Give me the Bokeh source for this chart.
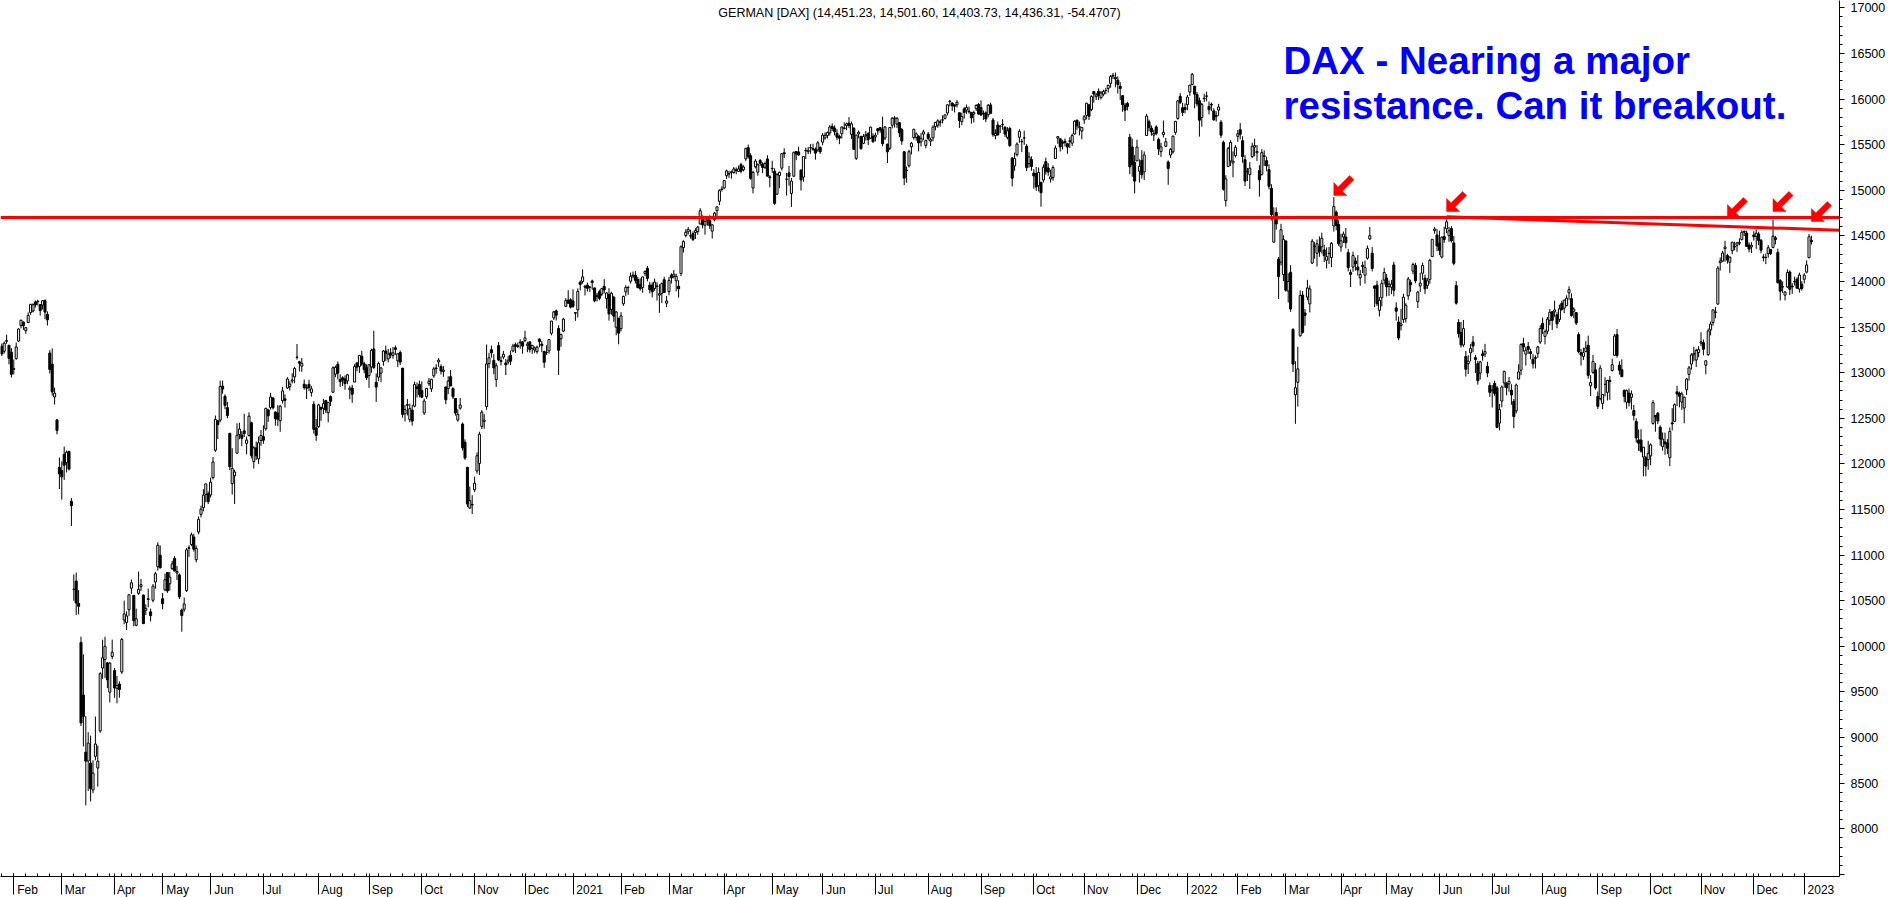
import numpy as np
import pandas as pd
from bokeh.plotting import figure
from bokeh.models import (ColumnDataSource, FixedTicker, SingleIntervalTicker, Span, Label,
                          Range1d, NumeralTickFormatter)
from bokeh.embed import file_html
from bokeh.resources import INLINE

# ---------------- data (daily OHLC, DAX, 27 Jan 2020 .. 5 Jan 2023) ----------------
holidays = ["2020-04-10", "2020-04-13", "2020-05-01", "2020-12-24", "2020-12-25", "2020-12-31",
            "2021-01-01", "2021-04-02", "2021-04-05", "2021-12-24", "2021-12-31",
            "2022-04-15", "2022-04-18", "2022-12-26"]

opens = [
    13289,13234,13351,13301,13225,
    13036,13154,13346,13516,13554,13460,13550,13660,13676,13775,13778,13746,13741,13793,13640,13215,13093,12734,12483,11961,
    11927,12104,12014,12136,11590,10626,10715,10470,10043,9466,8840,8743,8720,8425,8794,8666,9073,9762,9855,9819,9497,9889,
    9734,9540,9587,9719,10290,10262,10401,10637,10559,10231,10581,10653,10562,10396,10521,10378,10505,10706,10873,10999,
    10523,10620,10810,10686,10852,10963,10804,10783,10398,10407,10610,11080,11117,11199,10950,11253,11447,11520,11666,11672,
    11660,11850,12150,12473,12480,12853,12741,12617,12334,11784,11871,12118,12321,12317,12362,12225,12312,12451,12026,12175,12055,12256,
    12299,12385,12593,12617,12723,12569,12556,12473,12693,12713,12832,12847,12909,12954,13167,13119,13072,12874,12829,12872,12783,12654,12395,
    12409,12617,12610,12694,12561,12738,12786,12985,13092,12925,12944,12931,12910,12812,12832,12897,13107,13067,13180,13097,13055,
    12968,13063,13260,12894,12951,12995,13123,13238,13151,13217,13190,13273,13130,13221,13050,12549,12649,12486,12589,12633,12844,12872,
    12805,12558,12737,12879,12823,12965,13046,13118,13066,13013,12844,12826,12956,12827,12718,12481,12611,12437,12238,11963,11516,11550,
    11716,11923,12005,12411,12466,12628,13100,13252,13135,12925,13296,13122,13171,13107,13116,13190,13238,13307,13295,13327,13338,
    13352,13301,13338,13266,13249,13231,13368,13314,13232,13221,13239,13432,13600,13677,13485,13372,13456,13727,13795,13799,
    13787,13658,13689,13992,13999,13947,13960,13935,14005,13929,13834,13887,13862,13947,13812,13855,13692,13827,13498,13592,
    13482,13755,13886,13934,14002,14070,14069,14021,13967,13934,14087,14144,13960,13959,13923,13945,13850,13869,14019,13762,
    13889,14071,14057,14007,13947,14087,14372,14504,14545,14498,14524,14536,14547,14631,14701,14617,14681,14666,14551,14677,14776,14879,15014,
    15025,15159,15183,15195,15194,15224,15207,15281,15225,15344,15467,15378,15025,15257,15198,15327,15289,15252,15343,15147,
    15240,15208,14957,15161,15242,15411,15121,15190,14965,15154,15424,15420,15221,15144,15431,15423,15467,15457,15448,15442,15470,
    15527,15574,15600,15629,15700,15681,15624,15591,15620,15683,15708,15736,15613,15680,15350,15617,15589,15514,15597,15621,15571,15592,
    15584,15675,15686,15663,15573,15504,15460,15712,15791,15725,15741,15663,15422,15220,15268,15476,15577,15579,15592,15530,15615,15492,
    15616,15538,15574,15699,15713,15749,15771,15788,15847,15972,15956,15936,15938,15850,15752,15892,15878,15867,15854,15834,15896,15939,
    15906,15843,15848,15828,15935,15770,15600,15715,15703,15718,15690,15580,15677,15353,15266,15390,15581,15535,15573,15483,15292,15336,
    15188,15183,15052,15087,15112,15313,15244,15124,15138,15348,15571,15564,15525,15538,15510,15537,15516,15617,15769,15690,15649,
    15772,15821,15936,15883,16082,16025,16085,16014,16053,16095,16116,16171,16260,16236,16207,16140,16037,15933,15952,15582,15474,15306,
    15322,15209,15328,15201,15600,15751,15681,15605,15694,15557,15423,15611,15482,15310,15386,15421,15634,15787,16029,15905,15907,
    15938,16076,16158,16141,16048,15982,15797,16002,16033,15919,15942,15870,15820,15879,15746,15526,14886,15261,15321,15299,15380,
    15591,15664,15543,15335,15202,15172,15369,15472,15411,15216,15174,15377,15324,15225,15021,14431,14757,14244,14212,14076,
    14444,13895,14100,13476,12758,12894,13404,13851,13654,13829,13754,14202,14381,14309,14387,14380,14346,14233,14309,14262,14608,14758,14624,
    14378,14487,14487,14316,14099,14158,14225,14159,14039,14177,14069,14255,14466,14310,13951,13960,13684,13822,14015,
    14038,13945,13937,14181,13710,13555,13516,13583,13593,13842,13988,14113,14176,13778,13951,14090,14037,13956,14021,14272,14557,14510,
    14419,14268,14491,14577,14502,14580,14422,13955,13551,13439,13304,13178,13099,13218,13336,13165,13099,12995,13206,13204,13069,12859,
    12802,12882,12834,12447,12689,12887,12883,12877,12808,12685,12581,12930,13027,13319,13203,13287,13229,13147,13156,13211,13336,
    13541,13398,13454,13573,13667,13668,13634,13582,13760,13707,13735,13875,13812,13673,13658,13418,13219,13178,13232,13301,12856,13003,13032,
    12739,12717,12663,12872,12784,12916,13025,13191,13416,13083,13033,12806,12677,12776,12730,12585,12465,12263,12262,12076,12068,12047,
    12088,12443,12531,12555,12403,12190,12241,12229,12068,12450,12466,12790,12775,12678,12612,12813,12981,13094,13196,13139,13220,
    13324,13330,13081,13197,13469,13551,13660,13752,14206,14223,14360,14284,14211,14337,14383,14397,14419,14459,14549,14531,14399,14379,
    14510,14494,14521,14451,14269,14263,14304,14350,14374,14478,14319,14010,13939,13850,13940,14104,13949,14001,14026,13917,13969,
    14024,14102,14261,14451,
]
highs = [
    13319,13341,13417,13301,13268,
    13145,13330,13484,13580,13561,13501,13660,13750,13760,13791,13799,13752,13795,13803,13672,13246,13266,12836,12488,12070,
    12028,12190,12148,12145,11626,10788,10808,10616,10106,9912,9236,9059,9022,8751,9230,8912,9718,10073,10106,9829,9825,10074,
    9762,9674,9617,10092,10502,10384,10572,10732,10559,10413,10819,10738,10568,10461,10633,10414,10683,10817,11141,11106,
    10584,10797,10810,10815,10938,10989,10882,10800,10414,10535,11078,11107,11247,11235,11106,11423,11542,11723,11781,11698,
    11850,12075,12530,12479,12913,12913,12763,12680,12342,12172,11937,12445,12451,12358,12550,12301,12565,12462,12194,12245,12300,12372,
    12423,12618,12595,12780,12729,12575,12645,12647,12844,12762,12950,12906,12994,13063,13314,13131,13161,12925,12872,12922,12853,12686,12493,
    12660,12628,12712,12702,12678,12752,13070,13078,13123,12983,12961,12969,12987,12856,12867,13093,13111,13190,13240,13120,13092,
    13087,13263,13460,12991,13121,13045,13249,13297,13260,13269,13282,13297,13202,13244,13050,12645,12710,12661,12649,12901,12893,12913,
    12905,12717,12832,12941,12929,13064,13093,13161,13091,13072,12844,12961,13030,12839,12719,12599,12722,12454,12269,11963,11752,11657,
    11861,12126,12353,12589,12545,13309,13218,13297,13203,13106,13335,13178,13239,13150,13186,13243,13317,13330,13329,13366,13348,
    13460,13339,13343,13306,13287,13297,13378,13349,13241,13301,13367,13568,13678,13692,13520,13430,13602,13817,13904,13816,
    13913,13665,13924,14010,14132,13961,13988,13950,14020,13932,13874,13909,13931,14025,13883,13926,13887,13843,13677,13604,
    13664,13845,13958,13953,14098,14109,14113,14051,14033,14052,14121,14169,13996,13990,14032,13990,13970,13988,14052,13842,
    14050,14090,14125,14085,14014,14396,14452,14573,14597,14568,14548,14584,14610,14804,14725,14707,14703,14726,14628,14763,14824,15011,15043,
    15108,15226,15211,15216,15255,15250,15271,15301,15274,15460,15501,15406,15212,15341,15295,15341,15306,15314,15384,15165,
    15323,15240,15188,15205,15409,15459,15190,15267,15135,15424,15430,15477,15227,15370,15467,15474,15508,15510,15469,15539,15480,
    15627,15635,15644,15713,15733,15711,15667,15608,15699,15745,15741,15802,15753,15690,15609,15655,15599,15617,15650,15636,15697,15624,
    15632,15680,15692,15807,15705,15512,15689,15800,15812,15801,15747,15683,15427,15260,15444,15528,15672,15634,15603,15625,15663,15555,
    15641,15576,15711,15749,15778,15775,15821,15829,15938,15987,15963,15939,15989,15850,15850,15911,15939,15918,15854,15872,15943,15956,
    15986,15874,15864,15945,15959,15793,15668,15753,15711,15779,15703,15692,15696,15365,15413,15525,15668,15563,15653,15506,15416,15372,
    15232,15255,15250,15087,15284,15357,15296,15225,15273,15491,15593,15565,15553,15568,15519,15581,15621,15767,15769,15753,15689,
    15824,15957,15937,16039,16084,16067,16116,16087,16102,16120,16159,16263,16287,16290,16248,16184,16044,15958,15970,15618,15566,15385,
    15554,15338,15440,15425,15838,15775,15711,15664,15713,15577,15520,15765,15574,15327,15462,15599,15757,15984,16065,15959,15951,
    16045,16155,16285,16141,16076,16016,15957,16058,16081,15972,15961,15898,15865,15947,15768,15544,15165,15473,15548,15425,15494,
    15660,15736,15593,15384,15244,15308,15521,15565,15496,15274,15450,15437,15368,15283,15066,14813,14812,14268,14632,14507,
    14451,14090,14179,13484,13126,13284,13901,13896,13697,14018,13957,14464,14432,14460,14493,14535,14402,14373,14378,14433,14925,14778,14671,
    14523,14547,14586,14355,14132,14326,14262,14288,14127,14217,14229,14394,14597,14376,13953,14008,13829,14018,14150,
    14082,14010,14018,14216,13772,13617,13700,13866,13762,14050,14018,14206,14204,13895,14096,14207,14075,14037,14249,14462,14597,14574,
    14557,14495,14600,14709,14597,14606,14499,14004,13587,13557,13578,13238,13191,13316,13403,13194,13130,13130,13253,13316,13120,12894,
    12865,12912,12853,12658,12859,13021,12896,12953,12874,12712,12881,13092,13322,13383,13285,13336,13262,13203,13191,13296,13521,
    13603,13473,13611,13698,13677,13791,13662,13746,13788,13800,13848,13947,13870,13717,13665,13443,13261,13275,13346,13406,12973,13196,13106,
    12794,13082,12767,12950,12920,12963,13153,13424,13478,13126,13146,12816,12816,12827,12805,12647,12499,12377,12380,12186,12085,12253,
    12225,12699,12531,12569,12423,12345,12343,12271,12400,12611,12663,12857,12793,12790,12739,12938,13075,13214,13283,13262,13291,
    13444,13364,13135,13483,13561,13694,13721,14170,14262,14335,14446,14304,14275,14433,14436,14430,14473,14561,14559,14557,14429,14431,
    14551,14571,14545,14465,14299,14306,14400,14357,14676,14500,14359,14025,14000,13894,14132,14122,13982,14053,14045,14097,14003,
    14091,14231,14520,14502,
]
lows = [
    13183,13210,13316,13092,12948,
    12981,13143,13338,13486,13469,13426,13548,13634,13661,13714,13736,13626,13693,13587,13517,12992,12750,12651,12324,11725,
    11608,11824,11906,11928,11320,10500,10343,10350,9127,8903,8256,8415,8300,8390,8750,8462,9053,9643,9654,9542,9385,9859,
    9436,9375,9437,9698,10242,10178,10331,10575,10221,10220,10564,10608,10246,10344,10427,10273,10482,10631,10831,10852,
    10406,10605,10586,10611,10838,10825,10727,10519,10160,10379,10596,10981,11099,11039,10921,11228,11413,11480,11579,11560,
    11630,11830,12130,12272,12456,12770,12600,12500,11932,11663,11560,12113,12270,12195,12294,12105,12300,12061,11949,12043,11998,12199,
    12220,12364,12462,12596,12597,12419,12414,12352,12662,12617,12823,12803,12881,12884,13143,13013,13009,12814,12711,12800,12738,12333,12253,
    12395,12472,12544,12559,12455,12634,12776,12951,12925,12845,12853,12812,12874,12709,12669,12897,13015,12997,13074,12992,12920,
    12833,13000,13040,12678,12907,12895,13076,13129,13113,13158,13153,13195,13061,13084,12507,12465,12531,12456,12420,12620,12728,12730,
    12723,12537,12713,12856,12788,12944,12987,13064,12979,12955,12655,12765,12856,12711,12529,12463,12595,12147,12045,11527,11509,11450,
    11693,11894,11879,12381,12385,12593,13049,13165,12983,12844,13127,13078,13147,12974,13090,13083,13224,13216,13271,13262,13208,
    13336,13224,13221,13207,13218,13208,13279,13225,13053,13193,13208,13409,13579,13572,12975,13284,13444,13719,13755,13703,
    13710,13568,13605,13902,13975,13846,13890,13883,13908,13771,13780,13793,13839,13869,13702,13571,13634,13558,13410,13311,
    13452,13733,13838,13853,13976,14035,13978,13927,13900,13876,14062,14001,13869,13825,13898,13791,13656,13761,13879,13718,
    13848,13977,14034,13892,13823,14060,14316,14483,14514,14469,14442,14466,14512,14625,14582,14513,14612,14576,14470,14659,14706,14836,14987,
    15011,15124,15136,15127,15180,15174,15203,15186,15207,15321,15346,15116,14966,15240,15159,15266,15186,15231,15154,15033,
    15188,14840,14953,15022,15217,15354,14941,15050,14817,15146,15330,15380,14997,15092,15342,15396,15400,15431,15335,15421,15398,
    15493,15553,15568,15599,15650,15601,15548,15505,15567,15670,15658,15681,15561,15448,15332,15569,15445,15505,15545,15495,15563,15522,
    15535,15608,15630,15482,15551,15298,15441,15678,15687,15683,15582,15498,15056,15083,15250,15392,15555,15543,15426,15480,15548,15460,
    15546,15484,15537,15656,15684,15696,15733,15776,15821,15919,15870,15853,15907,15683,15712,15785,15836,15840,15730,15742,15870,15827,
    15816,15771,15746,15800,15834,15586,15560,15595,15626,15664,15584,15558,15474,15042,15213,15370,15520,15419,15498,15211,15248,15213,
    15016,14993,14987,14819,15085,15171,15158,15084,15106,15345,15509,15425,15447,15480,15400,15462,15486,15608,15663,15601,15558,
    15728,15776,15770,15867,15960,15989,15987,15995,16030,16052,16070,16124,16220,16128,16060,15989,15859,15758,15875,15176,15148,14965,
    15322,15085,15128,15111,15599,15647,15598,15540,15602,15385,15365,15579,15472,15060,15354,15400,15608,15772,15945,15812,15843,
    15878,16034,16152,15898,15920,15588,15697,15968,15974,15831,15867,15761,15753,15815,15574,14996,14822,15253,15264,15142,15359,
    15530,15558,15301,15045,15101,15014,15352,15372,15321,14930,15160,15266,15208,15010,14669,14428,14567,13807,14176,14003,
    13888,13770,13667,13006,12439,12628,13395,13428,13515,13794,13661,14192,14250,14164,14270,14305,14213,14142,14191,14156,14547,14561,14391,
    14326,14421,14363,14110,13939,14107,14118,14066,13953,14092,13975,14239,14455,14110,13720,13731,13616,13727,13967,
    13836,13841,13860,13837,13571,13355,13463,13544,13550,13800,13886,14079,13980,13709,13884,14017,13861,13919,13975,14272,14523,14333,
    14288,14252,14423,14529,14435,14426,14177,13746,13384,13276,13283,12957,12985,13124,13225,12997,12869,12925,13132,13170,12951,12734,
    12618,12746,12391,12367,12620,12836,12752,12791,12648,12391,12553,12928,12972,13231,13078,13207,13146,13046,13046,13162,13315,
    13424,13310,13421,13520,13467,13612,13487,13555,13678,13653,13728,13800,13613,13597,13522,13212,13078,13138,13225,12935,12744,12988,12813,
    12602,12696,12600,12741,12695,12703,13012,13190,13164,12979,12952,12675,12604,12630,12595,12476,12234,12143,12124,11863,11863,11935,
    11985,12430,12353,12436,12200,12145,12100,12107,11975,12366,12460,12633,12620,12592,12445,12756,12913,13034,13124,13063,13169,
    13292,13190,12982,13186,13409,13516,13596,13745,14119,14214,14217,14195,14094,14298,14341,14325,14397,14450,14498,14379,14319,14311,
    14449,14357,14398,14309,14220,14190,14260,14290,14363,14406,13975,13791,13876,13792,13930,13850,13864,13956,13924,13878,13899,
    13978,14088,14253,14404,
]
closes = [
    13205,13324,13345,13157,12982,
    13045,13282,13479,13575,13514,13494,13628,13750,13745,13744,13784,13681,13789,13664,13579,13035,12790,12775,12367,11890,
    11857,11986,12128,11944,11542,10625,10475,10439,9161,9232,8742,8939,8442,8610,8929,8741,9701,9874,10001,9633,9816,9936,
    9544,9571,9526,10075,10356,10333,10565,10697,10280,10301,10626,10676,10249,10416,10514,10337,10660,10796,11108,10862,
    10467,10730,10607,10759,10904,10825,10820,10543,10337,10465,11058,11075,11223,11065,11074,11392,11504,11657,11781,11587,
    11800,12021,12487,12431,12848,12820,12642,12530,11970,11949,11911,12315,12382,12281,12331,12262,12523,12093,12177,12089,12232,12311,
    12260,12608,12528,12733,12616,12495,12489,12633,12800,12697,12931,12874,12920,13046,13171,13104,13103,12838,12839,12836,12822,12379,12313,
    12647,12600,12660,12591,12674,12687,13054,13058,12994,12901,12920,12881,12977,12830,12764,13067,13061,13190,13096,13033,12945,
    13087,13243,13057,12842,13100,13053,13237,13209,13202,13193,13217,13255,13208,13116,12542,12594,12643,12606,12469,12871,12826,12761,
    12731,12689,12828,12906,12928,13042,13051,13138,13018,13028,12703,12909,12854,12736,12558,12543,12646,12177,12064,11561,11598,11556,
    11788,12089,12325,12568,12480,13096,13163,13217,13052,13077,13139,13133,13202,13086,13137,13127,13292,13290,13287,13336,13291,
    13382,13313,13253,13298,13271,13279,13340,13296,13114,13223,13363,13566,13667,13630,13246,13418,13587,13790,13761,13719,
    13727,13652,13892,13968,14050,13937,13925,13940,13989,13788,13848,13815,13921,13907,13874,13644,13871,13620,13666,13433,
    13623,13836,13934,13933,14057,14060,14012,13932,13921,14050,14109,14033,13909,13887,13993,13950,13865,13976,13879,13786,
    14012,14039,14080,14056,13920,14380,14437,14540,14569,14502,14461,14557,14596,14775,14621,14657,14662,14611,14621,14749,14818,14996,15008,
    15107,15212,15177,15203,15234,15215,15234,15209,15255,15460,15368,15130,15196,15320,15280,15296,15249,15292,15154,15136,
    15236,14856,15171,15197,15400,15400,15120,15150,15100,15416,15397,15386,15113,15370,15438,15438,15465,15450,15407,15520,15421,
    15603,15602,15632,15693,15677,15640,15581,15571,15693,15674,15729,15711,15728,15448,15603,15636,15456,15589,15608,15554,15691,15531,
    15604,15650,15661,15511,15692,15421,15688,15790,15790,15789,15630,15540,15133,15216,15423,15515,15669,15618,15519,15570,15640,15544,
    15568,15555,15692,15744,15761,15745,15770,15826,15937,15977,15925,15921,15965,15765,15808,15852,15906,15860,15793,15852,15930,15835,
    15824,15840,15781,15932,15843,15610,15623,15609,15701,15722,15616,15652,15490,15132,15349,15506,15644,15531,15574,15248,15365,15260,
    15156,15036,15195,14973,15251,15206,15199,15147,15249,15463,15587,15474,15516,15522,15473,15543,15599,15757,15705,15696,15689,
    15806,15954,15811,16030,16054,16046,16040,16067,16083,16094,16148,16248,16251,16221,16160,16116,15937,15878,15917,15257,15280,15100,
    15473,15263,15170,15387,15813,15687,15639,15623,15622,15453,15476,15636,15532,15239,15447,15593,15756,15980,15964,15853,15885,
    16021,16152,16271,16052,15948,15768,15942,16010,16031,15883,15934,15772,15810,15912,15603,15011,15124,15460,15524,15318,15471,
    15619,15613,15368,15100,15207,15242,15482,15490,15425,15114,15412,15370,15268,15043,14731,14693,14631,14052,14567,14461,
    13905,14000,13698,13094,12835,13042,13847,13442,13628,13929,13918,14441,14388,14413,14326,14473,14283,14274,14306,14418,14821,14613,14415,
    14446,14519,14424,14152,14078,14284,14193,14125,14076,14163,14153,14362,14502,14142,13924,13757,13795,13980,14098,
    13940,13970,13971,13903,13674,13381,13535,13829,13739,14027,13964,14186,14007,13883,13982,14175,13919,14008,14231,14462,14575,14388,
    14340,14485,14460,14654,14556,14446,14199,13762,13427,13304,13483,13038,13126,13266,13292,13145,12912,13118,13187,13231,12996,12784,
    12813,12773,12401,12595,12843,13015,12833,12905,12756,12519,12865,13008,13308,13282,13246,13254,13210,13097,13166,13282,13484,
    13479,13449,13587,13662,13574,13688,13535,13700,13694,13795,13816,13910,13626,13697,13544,13230,13194,13220,13271,12971,12892,13123,12834,
    12631,13050,12761,12871,12916,12904,13088,13402,13189,13028,12956,12741,12803,12671,12767,12531,12284,12227,12140,12183,11976,12114,
    12209,12671,12517,12470,12273,12272,12220,12172,12356,12438,12649,12766,12741,12767,12731,12931,13053,13195,13211,13243,13253,
    13338,13257,13130,13459,13533,13688,13666,14146,14224,14313,14378,14234,14266,14431,14379,14423,14428,14539,14541,14383,14355,14397,
    14490,14529,14448,14343,14261,14264,14370,14306,14497,14460,13987,13894,13943,13884,14098,13914,13941,13995,13926,14071,13924,
    14069,14181,14490,14436,
]

header_name = "GERMAN [DAX]"
header_values = [14451.23, 14501.60, 14403.73, 14436.31]
header_change = -54.4707

resistance_level = 14700
trend_start_date = "2022-06-06"
trend_start_price = 14709
trend_end_price = 14562

arrow_dates = ["2022-03-29", "2022-06-06", "2022-11-16", "2022-12-13", "2023-01-05"]
arrow_tip_prices = [14942, 14767, 14701, 14767, 14657]

note_lines = ["DAX - Nearing a major", "resistance. Can it breakout."]

# ---------------- layout constants ----------------
X0, X1 = -0.54, 765.7
Y0, Y1 = 7477, 17080
FRAME_W, FRAME_H = 1839, 876
PPB = FRAME_W / (X1 - X0)      # px per bar
PPP = FRAME_H / (Y1 - Y0)      # px per price point
RED = "#ff0000"
NBSP_W = 3.333

def idx_ref(rx):
    return (rx - 1.3) / 2.4

def price_ref(ry):
    return 17000 - (ry - 7.3) / 0.09122

# ---------------- build series ----------------
days = [d for d in pd.bdate_range("2020-01-27", "2023-01-05") if d.strftime("%Y-%m-%d") not in holidays]
n = min(len(days), len(opens), len(highs), len(lows), len(closes))
days = days[:n]
o = np.array(opens[:n], float)
h = np.array(highs[:n], float)
l = np.array(lows[:n], float)
c = np.array(closes[:n], float)
h = np.maximum(h, np.maximum(o, c))
l = np.minimum(l, np.minimum(o, c))
x = np.arange(n)
day_str = [d.strftime("%Y-%m-%d") for d in days]
pos = {s: i for i, s in enumerate(day_str)}

src = ColumnDataSource(dict(x=x, h=h, l=l, top=np.maximum(o, c), bot=np.minimum(o, c),
                            fill=np.where(c >= o, "white", "black")))

p = figure(x_range=Range1d(X0, X1), y_range=Range1d(Y0, Y1),
           frame_width=FRAME_W, frame_height=FRAME_H,
           output_backend="svg", toolbar_location=None, y_axis_location="right",
           min_border_left=0, min_border_right=0, min_border_top=0, min_border_bottom=0,
           background_fill_color="white", border_fill_color="white", outline_line_color=None)
p.grid.visible = False

# candles
p.segment(x0="x", y0="h", x1="x", y1="l", source=src, line_color="black", line_width=1)
p.vbar(x="x", width=0.85, top="top", bottom="bot", source=src,
       fill_color="fill", line_color="black", line_width=1)

# resistance lines
p.add_layout(Span(location=resistance_level, dimension="width", line_color=RED, line_width=3))
ts = pos.get(trend_start_date, 602)
p.line([ts, X1], [trend_start_price, trend_end_price], line_color=RED, line_width=3)

# arrows (pointing down-left)
shape = [(0, 0), (0, 13), (4.4, 8.6), (15.9, 20.1), (20.1, 15.9), (8.6, 4.4), (13, 0)]
axs, ays = [], []
for dstr, pr in zip(arrow_dates, arrow_tip_prices):
    tx = pos.get(dstr, n - 1)
    axs.append([tx + dx / PPB for dx, dy in shape])
    ays.append([pr + dy / PPP for dx, dy in shape])
p.patches(axs, ays, fill_color=RED, line_color=RED, line_width=0.5)

# x axis: month ticks (long, out), weekly minor ticks (in); labels sit just right of the tick
month_ticks, month_labels, week_ticks = [], {}, []
W = {'F': .611, 'e': .556, 'b': .556, 'M': .833, 'a': .556, 'r': .333, 'A': .667, 'p': .556,
     'y': .5, 'J': .5, 'u': .556, 'n': .556, 'l': .222, 'g': .556, 'S': .667, 'O': .778,
     'c': .5, 't': .278, 'N': .722, 'o': .556, 'v': .5, 'D': .722}
for i, d in enumerate(days):
    if i == 0 or d.isocalendar()[1] != days[i - 1].isocalendar()[1]:
        week_ticks.append(i)
    if i > 0 and d.month != days[i - 1].month:
        month_ticks.append(i)
        lab = str(d.year) if d.month == 1 else d.strftime("%b")
        w = sum(W.get(ch, .556) for ch in lab) * 12
        pad = int(round((w + 6) / NBSP_W))
        tick_px = (i - X0) * PPB
        if tick_px - (pad * NBSP_W + w) / 2 < 0:      # label would be pushed inside the canvas
            pad = int(round((tick_px + 3) / NBSP_W))
        month_labels[i] = "\u00a0" * pad + lab

xa = p.xaxis[0]
xa.ticker = FixedTicker(ticks=month_ticks, minor_ticks=week_ticks)
xa.major_label_overrides = month_labels
xa.major_tick_in = 3
xa.major_tick_out = 18
xa.minor_tick_in = 3
xa.minor_tick_out = 0
xa.major_label_standoff = -12
xa.major_label_text_font = "Liberation Sans"
xa.major_label_text_font_size = "12px"
xa.major_label_text_color = "black"
xa.axis_line_color = "black"
xa.major_tick_line_color = "black"
xa.minor_tick_line_color = "black"

ya = p.yaxis[0]
ya.ticker = SingleIntervalTicker(interval=500, num_minor_ticks=5)
ya.formatter = NumeralTickFormatter(format="0")
ya.major_label_overrides = {7500: ""}
ya.major_tick_in = 0
ya.major_tick_out = 5
ya.minor_tick_in = 0
ya.minor_tick_out = 3
ya.major_label_standoff = 6
ya.major_label_text_font = "Liberation Sans"
ya.major_label_text_font_size = "12.5px"
ya.major_label_text_color = "black"
ya.axis_line_color = "black"
ya.major_tick_line_color = "black"
ya.minor_tick_line_color = "black"

# header text
hdr = "%s (%s, %s)" % (header_name, ", ".join("{:,.2f}".format(v) for v in header_values),
                        "{:.4f}".format(header_change))
p.add_layout(Label(x=idx_ref(919), y=price_ref(13), text=hdr, text_align="center",
                   text_baseline="alphabetic", text_font="Liberation Sans",
                   text_font_size="12.5px", text_color="black"))

# annotation text
for line, base in zip(note_lines, [60.5, 105.5]):
    p.add_layout(Label(x=idx_ref(1283), y=price_ref(base), text=line, text_align="left",
                       text_baseline="alphabetic", text_font="Liberation Sans",
                       text_font_style="bold", text_font_size="38.5px", text_color="#0000ff"))

open("out.html", "w").write(file_html(p, INLINE))
